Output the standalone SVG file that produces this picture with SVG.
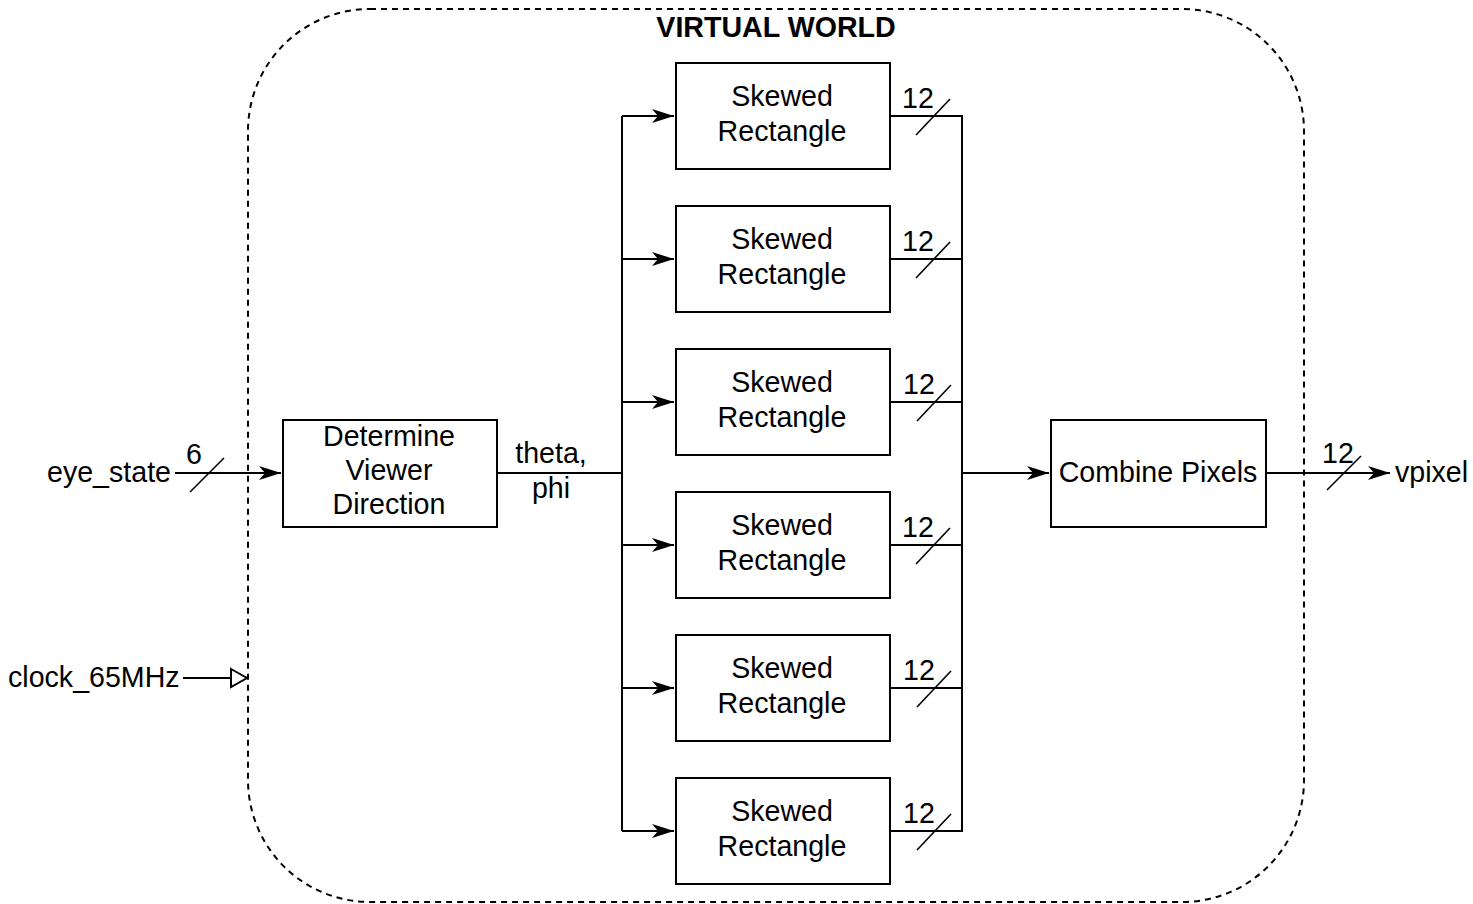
<svg xmlns="http://www.w3.org/2000/svg" width="1473" height="904" viewBox="0 0 1473 904">
<defs>
<marker id="arr" markerUnits="userSpaceOnUse" markerWidth="24" markerHeight="16" refX="22" refY="7" orient="auto" viewBox="0 0 24 16">
<path d="M0,0 L22,7 L0,14 L6,7 Z" fill="#000"/>
</marker>
<style>
.box{fill:#fff;stroke:#000;stroke-width:2}
.t{font-family:"Liberation Sans",Arial,sans-serif;font-size:28.6px;fill:#000}
.c{text-anchor:middle}
.w{fill:none;stroke:#000;stroke-width:2}
.s{fill:none;stroke:#000;stroke-width:1.6}
</style>
</defs>
<rect id="virtual-world" x="248" y="9" width="1056" height="893" rx="122" ry="122" fill="none" stroke="#000" stroke-width="2" stroke-dasharray="6,5"/>
<text x="776" y="37" class="t c" font-weight="bold">VIRTUAL WORLD</text>

<g id="connectors">
<path class="w" d="M175,473 H281" marker-end="url(#arr)"/>
<line class="s" x1="190" y1="492" x2="224" y2="458"/>
<path class="w" d="M497,473 H622"/>
<path class="w" d="M622,116 V831"/>
<path class="w" d="M622,116 H674" marker-end="url(#arr)"/>
<path class="w" d="M622,259 H674" marker-end="url(#arr)"/>
<path class="w" d="M622,402 H674" marker-end="url(#arr)"/>
<path class="w" d="M622,545 H674" marker-end="url(#arr)"/>
<path class="w" d="M622,688 H674" marker-end="url(#arr)"/>
<path class="w" d="M622,831 H674" marker-end="url(#arr)"/>
<path class="w" d="M890,116 H962 V831 H890"/>
<path class="w" d="M890,259 H962"/>
<path class="w" d="M890,402 H962"/>
<path class="w" d="M890,545 H962"/>
<path class="w" d="M890,688 H962"/>
<line class="s" x1="916" y1="135" x2="950" y2="99"/>
<line class="s" x1="916" y1="278" x2="950" y2="242"/>
<line class="s" x1="917" y1="421" x2="951" y2="385"/>
<line class="s" x1="916" y1="564" x2="950" y2="528"/>
<line class="s" x1="917" y1="707" x2="951" y2="671"/>
<line class="s" x1="917" y1="850" x2="951" y2="814"/>
<path class="w" d="M962,473 H1049" marker-end="url(#arr)"/>
<path class="w" d="M1266,473 H1390" marker-end="url(#arr)"/>
<line class="s" x1="1327" y1="490" x2="1361" y2="456"/>
<path class="w" d="M183,678 H231"/>
<polygon points="231,669 247,678 231,687" fill="#fff" stroke="#000" stroke-width="2"/>
</g>

<g id="labels">
<text x="47" y="482" class="t">eye_state</text>
<text x="194" y="464" class="t c">6</text>
<text x="8" y="687" class="t">clock_65MHz</text>
<text x="551" y="463" class="t c">theta,</text>
<text x="551" y="498" class="t c">phi</text>
<text x="918" y="108" class="t c">12</text>
<text x="918" y="251" class="t c">12</text>
<text x="919" y="394" class="t c">12</text>
<text x="918" y="537" class="t c">12</text>
<text x="919" y="680" class="t c">12</text>
<text x="919" y="823" class="t c">12</text>
<text x="1338" y="463" class="t c">12</text>
<text x="1395" y="482" class="t">vpixel</text>
</g>

<g id="determine-viewer-direction">
<rect class="box" x="283" y="420" width="214" height="107"/>
<text class="t c" x="389" y="446">Determine</text>
<text class="t c" x="389" y="480">Viewer</text>
<text class="t c" x="389" y="514">Direction</text>
</g>
<g id="skewed-rect-1">
<rect class="box" x="676" y="63" width="214" height="106"/>
<text class="t c" x="782" y="106">Skewed</text>
<text class="t c" x="782" y="141">Rectangle</text>
</g>
<g id="skewed-rect-2">
<rect class="box" x="676" y="206" width="214" height="106"/>
<text class="t c" x="782" y="249">Skewed</text>
<text class="t c" x="782" y="284">Rectangle</text>
</g>
<g id="skewed-rect-3">
<rect class="box" x="676" y="349" width="214" height="106"/>
<text class="t c" x="782" y="392">Skewed</text>
<text class="t c" x="782" y="427">Rectangle</text>
</g>
<g id="skewed-rect-4">
<rect class="box" x="676" y="492" width="214" height="106"/>
<text class="t c" x="782" y="535">Skewed</text>
<text class="t c" x="782" y="570">Rectangle</text>
</g>
<g id="skewed-rect-5">
<rect class="box" x="676" y="635" width="214" height="106"/>
<text class="t c" x="782" y="678">Skewed</text>
<text class="t c" x="782" y="713">Rectangle</text>
</g>
<g id="skewed-rect-6">
<rect class="box" x="676" y="778" width="214" height="106"/>
<text class="t c" x="782" y="821">Skewed</text>
<text class="t c" x="782" y="856">Rectangle</text>
</g>
<g id="combine-pixels">
<rect class="box" x="1051" y="420" width="215" height="107"/>
<text class="t c" x="1158" y="482">Combine Pixels</text>
</g>
</svg>
